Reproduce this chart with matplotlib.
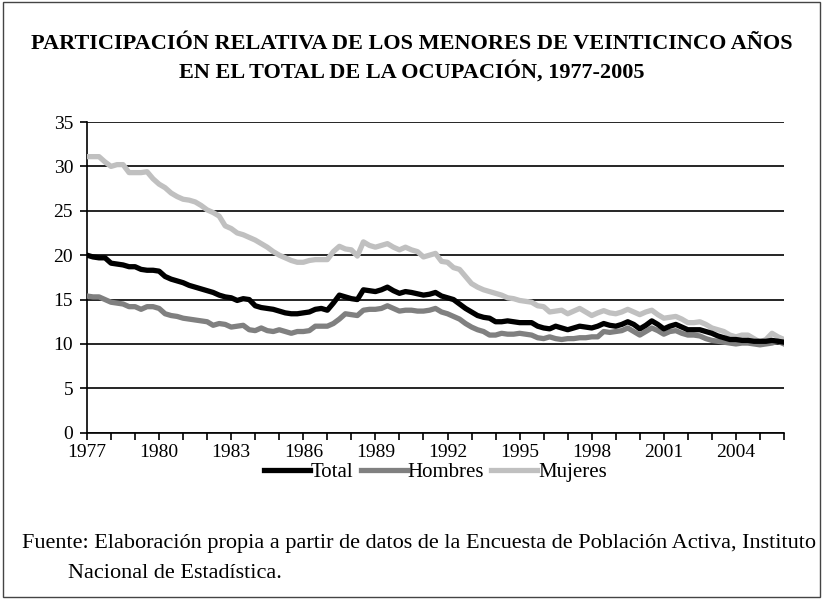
import numpy as np
import matplotlib
matplotlib.use("Agg")
import matplotlib.pyplot as plt
from matplotlib.patches import Rectangle

# Valores trimestrales, 1977T1 - 2006T1
total = [20.0, 19.8, 19.7, 19.7,
         19.1, 19.0, 18.9, 18.7,
         18.7, 18.4, 18.3, 18.3,
         18.2, 17.6, 17.3, 17.1,
         16.9, 16.6, 16.4, 16.2,
         16.0, 15.8, 15.5, 15.3,
         15.2, 14.9, 15.1, 15.0,
         14.3, 14.1, 14.0, 13.9,
         13.7, 13.5, 13.4, 13.4,
         13.5, 13.6, 13.9, 14.0,
         13.8, 14.6, 15.5, 15.3,
         15.1, 15.0, 16.1, 16.0,
         15.9, 16.1, 16.4, 16.0,
         15.7, 15.9, 15.8, 15.65,
         15.5, 15.6, 15.8, 15.4,
         15.2, 15.0, 14.5, 14.0,
         13.6, 13.2, 13.0, 12.9,
         12.5, 12.5, 12.6, 12.5,
         12.4, 12.4, 12.4, 12.0,
         11.8, 11.7, 12.0, 11.8,
         11.6, 11.8, 12.0, 11.9,
         11.8, 12.0, 12.3, 12.1,
         12.0, 12.2, 12.5, 12.2,
         11.7, 12.1, 12.6, 12.2,
         11.7, 12.0, 12.2, 11.9,
         11.6, 11.6, 11.6, 11.4,
         11.2, 10.9, 10.7, 10.5,
         10.5, 10.4, 10.4, 10.3,
         10.3, 10.3, 10.4, 10.3,
         10.2]

hombres = [15.4, 15.3, 15.3, 15.0,
           14.7, 14.6, 14.5, 14.2,
           14.2, 13.9, 14.2, 14.2,
           14.0, 13.4, 13.2, 13.1,
           12.9, 12.8, 12.7, 12.6,
           12.5, 12.1, 12.3, 12.2,
           11.9, 12.0, 12.1, 11.6,
           11.5, 11.8, 11.5, 11.4,
           11.6, 11.4, 11.2, 11.4,
           11.4, 11.5, 12.0, 12.0,
           12.0, 12.3, 12.8, 13.4,
           13.3, 13.2, 13.8, 13.9,
           13.9, 14.0, 14.3, 14.0,
           13.7, 13.8, 13.8, 13.7,
           13.7, 13.8, 14.0, 13.6,
           13.4, 13.1, 12.8, 12.3,
           11.9, 11.6, 11.4, 11.0,
           11.0, 11.2, 11.1, 11.1,
           11.2, 11.1, 11.0, 10.7,
           10.6, 10.8, 10.6, 10.5,
           10.6, 10.6, 10.7, 10.7,
           10.8, 10.8, 11.4, 11.3,
           11.4, 11.5, 11.8, 11.4,
           11.0, 11.4, 11.8, 11.5,
           11.1, 11.4, 11.5, 11.2,
           11.0, 11.0, 10.9, 10.6,
           10.4, 10.3, 10.2, 10.1,
           10.0, 10.1, 10.1, 10.0,
           9.9, 10.0, 10.1, 10.3,
           10.0]

mujeres = [31.1, 31.1, 31.1, 30.5,
           30.0, 30.2, 30.2, 29.3,
           29.3, 29.3, 29.4, 28.6,
           28.0, 27.6, 27.0, 26.6,
           26.3, 26.2, 26.0, 25.6,
           25.1, 24.8, 24.4, 23.3,
           23.0, 22.5, 22.3, 22.0,
           21.7, 21.3, 20.9, 20.4,
           20.0, 19.7, 19.4, 19.2,
           19.2, 19.4, 19.5, 19.5,
           19.5, 20.4, 21.0, 20.7,
           20.6, 19.9, 21.5, 21.1,
           20.9, 21.1, 21.3, 20.9,
           20.6, 20.9, 20.6, 20.4,
           19.8, 20.0, 20.2, 19.3,
           19.2, 18.6, 18.4, 17.6,
           16.8, 16.4, 16.1, 15.9,
           15.7, 15.5, 15.2, 15.1,
           14.9, 14.8, 14.7, 14.3,
           14.2, 13.6, 13.7, 13.8,
           13.4, 13.7, 14.0, 13.6,
           13.2, 13.5, 13.75, 13.5,
           13.4, 13.6, 13.9, 13.6,
           13.3, 13.6, 13.8, 13.3,
           12.9, 13.0, 13.1, 12.8,
           12.4, 12.4, 12.5, 12.2,
           11.8, 11.6, 11.4, 11.0,
           10.8, 11.0, 11.0, 10.6,
           10.2, 10.5, 11.2, 10.8,
           10.5]

anios = list(range(1977, 2007))
etiquetas = [str(a) if (a - 1977) % 3 == 0 and a < 2006 else "" for a in anios]

plt.rcParams['font.family'] = ['Liberation Serif', 'DejaVu Serif']

x = 1977 + np.arange(len(total)) / 4.0

fig = plt.figure(figsize=(8.23, 5.99), dpi=100)
ax = fig.add_axes([0.1057, 0.2776, 0.8469, 0.5187])

ax.plot(x, total, color='black', lw=3.8, label='Total', solid_joinstyle='round', zorder=5)
ax.plot(x, hombres, color='#808080', lw=3.8, label='Hombres', solid_joinstyle='round', zorder=4)
ax.plot(x, mujeres, color='#c0c0c0', lw=3.8, label='Mujeres', solid_joinstyle='round', zorder=3)

ax.set_xlim(1977, 2006)
ax.set_ylim(0, 35)
ax.set_yticks(range(0, 36, 5))
ax.set_xticks(anios)
ax.set_xticklabels(etiquetas)
ax.yaxis.grid(True, color='black', lw=1.2)
ax.set_axisbelow(True)
for s in ['top', 'right']:
    ax.spines[s].set_visible(False)
ax.spines['left'].set_linewidth(1.2)
ax.spines['bottom'].set_linewidth(1.2)
ax.tick_params(axis='both', direction='out', length=5, width=1.2, labelsize=14)
ax.tick_params(axis='y', pad=5)
ax.tick_params(axis='x', pad=3)

ax.legend(loc='upper center', bbox_to_anchor=(0.5, -0.083), ncol=3, frameon=False,
          fontsize=15, handlelength=2.2, handletextpad=0.05, columnspacing=0.35,
          borderaxespad=0, borderpad=0.2)

fig.text(0.5, 0.927, 'PARTICIPACIÓN RELATIVA DE LOS MENORES DE VEINTICINCO AÑOS',
         ha='center', va='center', fontsize=16, fontweight='bold')
fig.text(0.5, 0.880, 'EN EL TOTAL DE LA OCUPACIÓN, 1977-2005',
         ha='center', va='center', fontsize=16, fontweight='bold')

fig.text(0.027, 0.092, 'Fuente: Elaboración propia a partir de datos de la Encuesta de Población Activa, Instituto',
         ha='left', va='center', fontsize=16)
fig.text(0.083, 0.042, 'Nacional de Estadística.', ha='left', va='center', fontsize=16)

fig.patches.append(Rectangle((0.004, 0.004), 0.992, 0.992, transform=fig.transFigure,
                             fill=False, edgecolor='#444444', lw=1.0))

fig.savefig('out.png', dpi=100)
